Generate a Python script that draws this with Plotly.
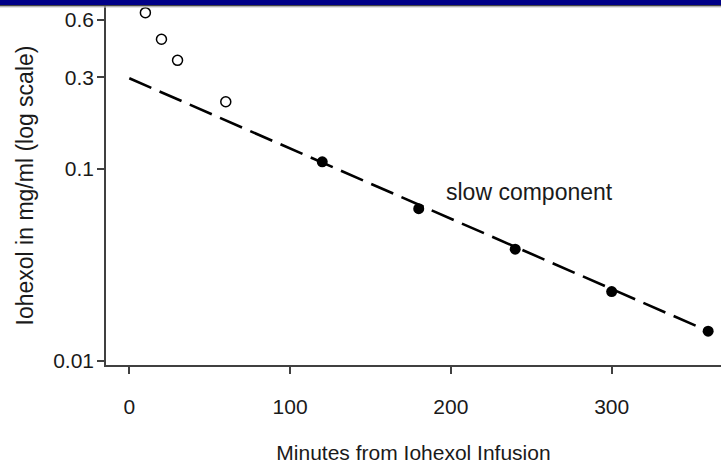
import plotly.graph_objects as go
import numpy as np

# Data
early_minutes = [10, 20, 30, 60]
early_conc = [0.652, 0.474, 0.368, 0.224]
late_minutes = [120, 180, 240, 300, 360]
late_conc = [0.109, 0.0621, 0.0382, 0.0230, 0.0143]
fit_minutes = [0, 360]
fit_conc = [0.297, 0.0143]
y_tickvals = [0.01, 0.1, 0.3, 0.6]
y_ticktext = ["0.01", "0.1", "0.3", "0.6"]
x_tickvals = [0, 100, 200, 300]

W, H = 721, 465
L, R, T, B = 106, 0, 6, 100
pw, ph = W - L - R, H - T - B

FONT = "Liberation Sans, Arial, sans-serif"
TXT = "#1a1a1a"
AX = "#404040"

fig = go.Figure()
fig.add_trace(go.Scatter(x=fit_minutes, y=fit_conc, mode="lines",
                         line=dict(color="black", width=2.6, dash="24px,9px"),
                         hoverinfo="skip", cliponaxis=False))
fig.add_trace(go.Scatter(x=early_minutes, y=early_conc, mode="markers",
                         marker=dict(symbol="circle", size=10, color="white",
                                     line=dict(color="black", width=1.5)),
                         cliponaxis=False))
fig.add_trace(go.Scatter(x=late_minutes, y=late_conc, mode="markers",
                         marker=dict(symbol="circle", size=11, color="black"),
                         cliponaxis=False))

fig.add_annotation(x=249, y=np.log10(0.0759), text="slow component", showarrow=False,
                   font=dict(family=FONT, size=23, color=TXT), xanchor="center", yanchor="middle")

def py(p):
    return 1 + (T - p) / ph

shapes = [
    dict(type="rect", xref="paper", yref="paper", x0=-L / pw, x1=1, y0=py(5), y1=py(-1),
         fillcolor="#000088", line=dict(width=0), layer="above"),
    dict(type="rect", xref="paper", yref="paper", x0=-L / pw, x1=1, y0=py(6.6), y1=py(5),
         fillcolor="#444444", line=dict(width=0), layer="above"),
    dict(type="rect", xref="paper", yref="paper", x0=-L / pw, x1=1, y0=py(7.6), y1=py(6.6),
         fillcolor="#c8c8c8", line=dict(width=0), layer="above"),
]

fig.update_layout(
    width=W, height=H, margin=dict(l=L, r=R, t=T, b=B),
    paper_bgcolor="white", plot_bgcolor="white", showlegend=False,
    shapes=shapes,
    font=dict(family=FONT, color=TXT),
    xaxis=dict(range=[-14.5, 368], tickvals=x_tickvals, ticks="outside", ticklen=7,
               tickwidth=1.5, tickcolor=AX, showline=True, linecolor=AX, linewidth=1.6,
               showgrid=False, zeroline=False, ticklabelstandoff=15,
               tickfont=dict(family=FONT, size=21, color=TXT),
               title=dict(text="Minutes from Iohexol Infusion", standoff=28,
                          font=dict(family=FONT, size=21, color=TXT))),
    yaxis=dict(type="log", range=[-2.021, -0.151], tickvals=y_tickvals, ticktext=y_ticktext,
               ticks="outside", ticklen=7, tickwidth=1.5, tickcolor=AX,
               showline=True, linecolor=AX, linewidth=1.6, showgrid=False, zeroline=False,
               ticklabelstandoff=-1,
               tickfont=dict(family=FONT, size=21, color=TXT),
               title=dict(text="Iohexol in mg/ml (log scale)", standoff=13,
                          font=dict(family=FONT, size=23, color=TXT))),
)

fig.write_html("out.html", config={"displayModeBar": False})
